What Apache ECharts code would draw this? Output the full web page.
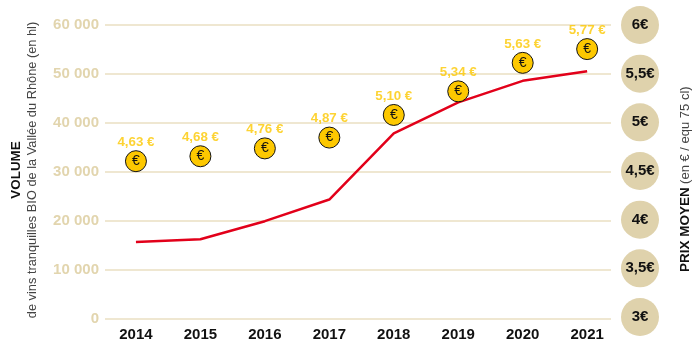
<!DOCTYPE html>
<html><head><meta charset="utf-8">
<style>html,body{margin:0;padding:0;background:#fff}#c{width:693px;height:339px}</style>
<script src="https://cdn.jsdelivr.net/npm/echarts@6/dist/echarts.min.js"></script>
</head><body><div id="c"></div>
<script>
const years = [2014, 2015, 2016, 2017, 2018, 2019, 2020, 2021];
const volume = [15630, 16180, 19860, 24280, 37800, 44100, 48500, 50470];
const price = [4.63, 4.68, 4.76, 4.87, 5.10, 5.34, 5.63, 5.77];
const priceTicks = [3, 3.5, 4, 4.5, 5, 5.5, 6];
const volumeTitle = 'VOLUME';
const volumeSub = 'de vins tranquilles BIO de la Vallée du Rhône (en hl)';
const priceTitle = 'PRIX MOYEN';
const priceSub = '(en € / equ 75 cl)';

const font = '"Liberation Sans", Arial, sans-serif';
const tan = '#dfd2ac';
const fr = v => String(v).replace('.', ',');
const fixed2 = v => v.toFixed(2).replace('.', ',');
const thousands = v => String(v).replace(/\B(?=(\d{3})+$)/g, ' ');

const chart = echarts.init(document.getElementById('c'), null, {renderer: 'canvas'});
chart.setOption({
  animation: false,
  textStyle: {fontFamily: font},
  grid: [
    {left: 105, right: 82, top: 24.5, height: 294, outerBoundsMode: 'none'},
    {left: 621, width: 38, top: 25, height: 292, outerBoundsMode: 'none'}
  ],
  xAxis: [
    {
      type: 'value', gridIndex: 0, min: 2013.52, max: 2021.37,
      splitLine: {show: false}, axisLine: {show: false}, axisTick: {show: false},
      axisLabel: {
        customValues: years, formatter: v => String(v), margin: 9,
        color: '#111', fontSize: 15, fontWeight: 'bold', fontFamily: font
      }
    },
    {type: 'value', gridIndex: 1, min: 0, max: 2, show: false}
  ],
  yAxis: [
    {
      type: 'value', gridIndex: 0, min: 0, max: 60000, interval: 10000,
      axisLine: {show: false}, axisTick: {show: false},
      splitLine: {lineStyle: {color: '#eadfc2', width: 1.5}},
      axisLabel: {
        formatter: thousands, margin: 6, color: '#e2d5ae',
        fontSize: 15, fontWeight: 'bold', fontFamily: font
      }
    },
    {type: 'value', gridIndex: 0, min: 3.03, max: 6.02, show: false},
    {type: 'value', gridIndex: 1, min: 3, max: 6, show: false}
  ],
  series: [
    {
      type: 'line', xAxisIndex: 0, yAxisIndex: 0, symbol: 'none', z: 3,
      data: years.map((y, i) => [y, volume[i]]),
      lineStyle: {color: '#e2001a', width: 2.5}
    },
    {
      type: 'scatter', xAxisIndex: 0, yAxisIndex: 1, z: 4, symbol: 'circle', symbolSize: 21,
      data: years.map((y, i) => [y, price[i]]),
      itemStyle: {color: '#fdc800', borderColor: '#111', borderWidth: 1, opacity: 1},
      label: {
        show: true, position: 'inside', formatter: '€', color: '#111',
        fontSize: 14, fontFamily: font
      }
    },
    {
      type: 'scatter', xAxisIndex: 0, yAxisIndex: 1, z: 5, symbol: 'circle', symbolSize: 1,
      data: years.map((y, i) => [y, price[i]]),
      itemStyle: {color: 'rgba(0,0,0,0)'},
      label: {
        show: true, position: 'top', distance: 12,
        formatter: p => fixed2(p.value[1]) + ' €',
        color: '#fdc800', fontSize: 13.3, fontWeight: 'bold', fontFamily: font
      }
    },
    {
      type: 'scatter', xAxisIndex: 1, yAxisIndex: 2, symbol: 'circle', symbolSize: 38,
      data: priceTicks.map(p => [1, p]),
      itemStyle: {color: tan, opacity: 1},
      label: {
        show: true, position: 'inside', formatter: p => fr(p.value[1]) + '€',
        color: '#111', fontSize: 15, fontWeight: 'bold', fontFamily: font
      }
    }
  ],
  graphic: [
    {
      type: 'text', x: 16, y: 170, rotation: Math.PI / 2,
      style: {text: volumeTitle, fill: '#111', font: 'bold 13.4px ' + font, align: 'center', verticalAlign: 'middle'}
    },
    {
      type: 'text', x: 32, y: 170, rotation: Math.PI / 2,
      style: {text: volumeSub, fill: '#444', font: '12.8px ' + font, align: 'center', verticalAlign: 'middle'}
    },
    {
      type: 'text', x: 685, y: 272, rotation: Math.PI / 2,
      style: {
        text: '{b|' + priceTitle + '} {n|' + priceSub + '}',
        align: 'left', verticalAlign: 'middle',
        rich: {
          b: {fill: '#111', font: 'bold 13.5px ' + font},
          n: {fill: '#444', font: '13px ' + font}
        }
      }
    }
  ]
});
</script></body></html>
